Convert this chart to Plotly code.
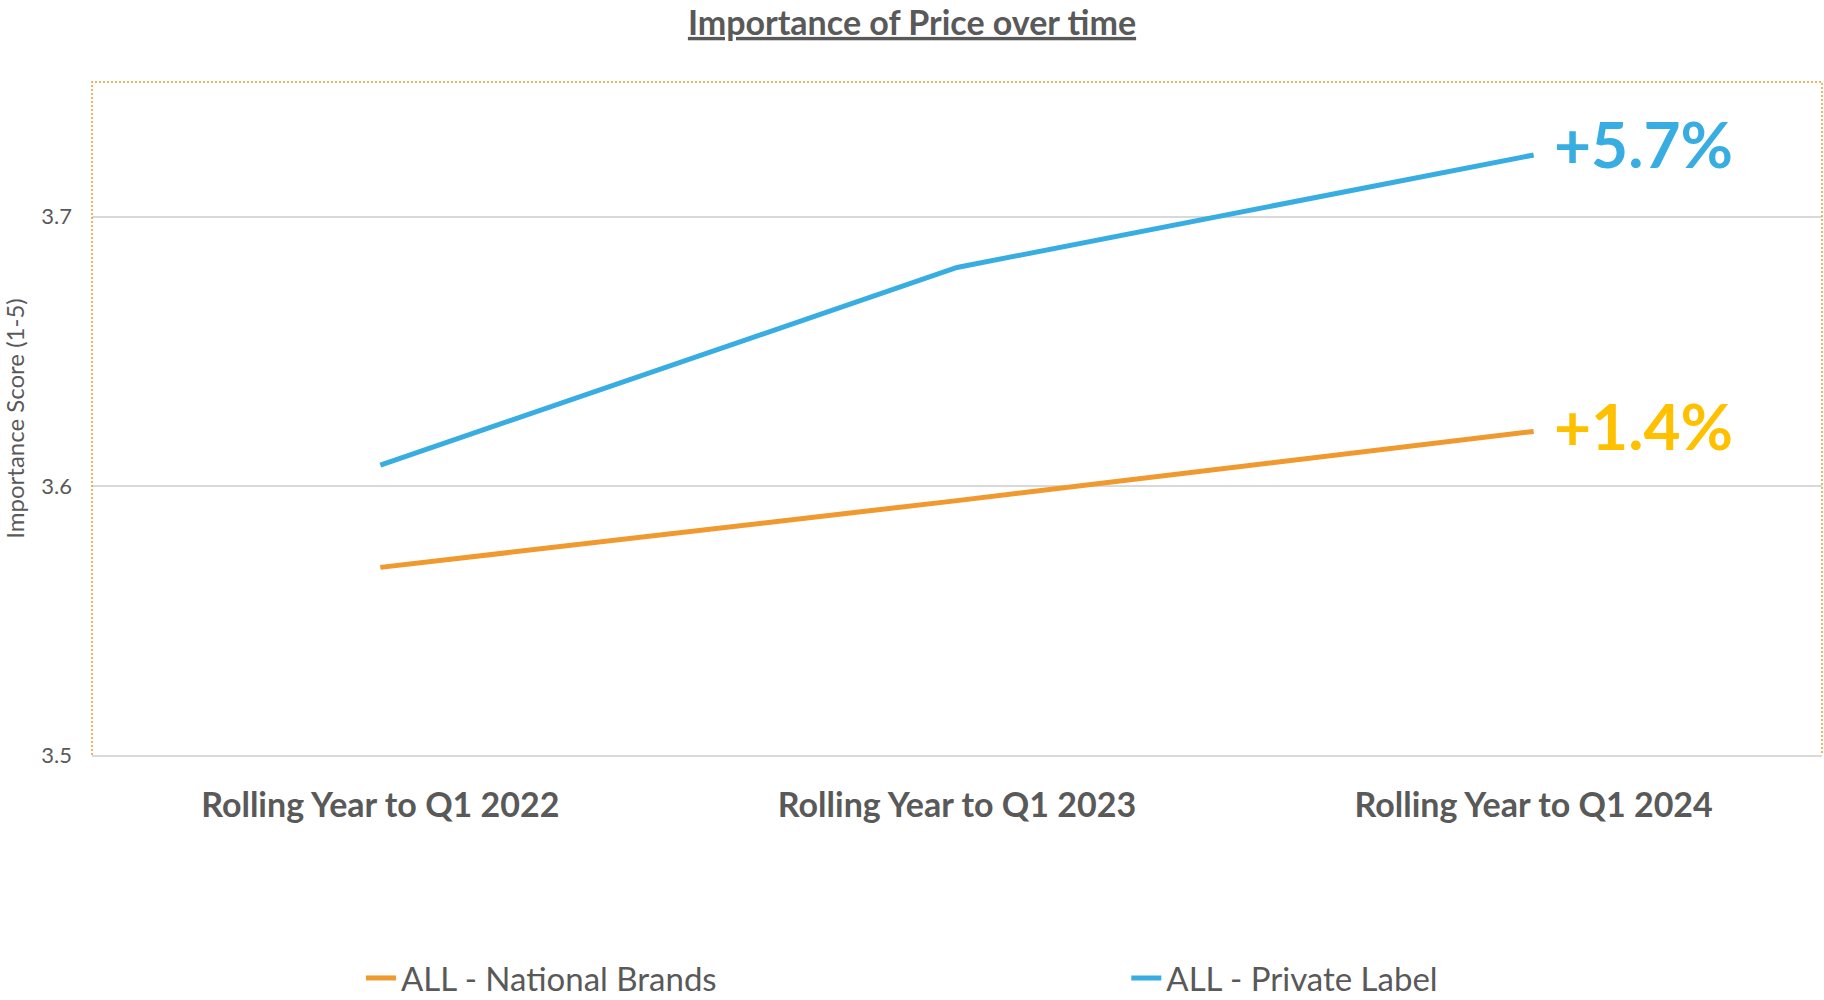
import plotly.graph_objects as go

categories = ["Rolling Year to Q1 2022", "Rolling Year to Q1 2023", "Rolling Year to Q1 2024"]
national_brands = [3.5697, 3.5945, 3.6202]
private_label = [3.6077, 3.6811, 3.7229]
change_labels = ["+1.4%", "+5.7%"]
y_ticks = [3.5, 3.6, 3.7]

ORANGE = "#F0992E"
BLUE = "#38ADE2"
YELLOW = "#FFC000"
GRAY = "#595959"

fig = go.Figure()
fig.add_trace(go.Scatter(x=categories, y=national_brands, mode="lines",
                         name="ALL - National Brands", legend="legend",
                         line=dict(color=ORANGE, width=5)))
fig.add_trace(go.Scatter(x=categories, y=private_label, mode="lines",
                         name="ALL - Private Label", legend="legend2",
                         line=dict(color=BLUE, width=5)))

fig.add_annotation(x=categories[-1], y=national_brands[-1], text="<b>" + change_labels[0] + "</b>",
                   showarrow=False, xanchor="left", yanchor="middle", xshift=18, yshift=6,
                   font=dict(family="Lato", size=64, color=YELLOW))
fig.add_annotation(x=categories[-1], y=private_label[-1], text="<b>" + change_labels[1] + "</b>",
                   showarrow=False, xanchor="left", yanchor="middle", xshift=18, yshift=11,
                   font=dict(family="Lato", size=64, color=BLUE))

# dotted orange frame (left, top, right) around the plot area
fig.add_shape(type="path", xref="paper", yref="paper",
              path="M 0 0 L 0 1 L 1 1 L 1 0",
              line=dict(color=ORANGE, width=1.5, dash="2px,2px"), layer="above")

legend_common = dict(orientation="h", xref="container", yref="container",
                     yanchor="middle", y=0.022, xanchor="left",
                     font=dict(family="Lato", size=33, color=GRAY),
                     bgcolor="rgba(0,0,0,0)")

fig.update_layout(
    width=1824, height=1000,
    paper_bgcolor="white", plot_bgcolor="white",
    margin=dict(l=92, r=2, t=82, b=245),
    title=dict(text="<b><u>Importance of Price over time</u></b>", x=0.5, xanchor="center",
               xref="container", yref="container", y=0.977, yanchor="middle",
               font=dict(family="Lato", size=34, color=GRAY)),
    showlegend=True,
    legend=dict(x=0.1979, **legend_common),
    legend2=dict(x=0.6175, **legend_common),
    font=dict(family="Lato", color=GRAY),
)
fig.update_xaxes(type="category", range=[-0.5, 2.5], showgrid=False,
                 showline=True, linecolor="#D9D9D9", linewidth=1.5,
                 ticks="", tickfont=dict(family="Lato", size=34, color=GRAY, weight="bold"),
                 ticklabelstandoff=19)
fig.update_yaxes(range=[3.5, 3.75], tickvals=y_ticks, ticktext=[f"{v:.1f}" for v in y_ticks],
                 showgrid=True, gridcolor="#D9D9D9", gridwidth=1.5, zeroline=False,
                 showline=False, ticks="", tickfont=dict(size=22, color=GRAY),
                 ticklabelstandoff=19,
                 title=dict(text="Importance Score (1-5)", font=dict(size=24, color=GRAY), standoff=11))

fig.write_html("out.html")
